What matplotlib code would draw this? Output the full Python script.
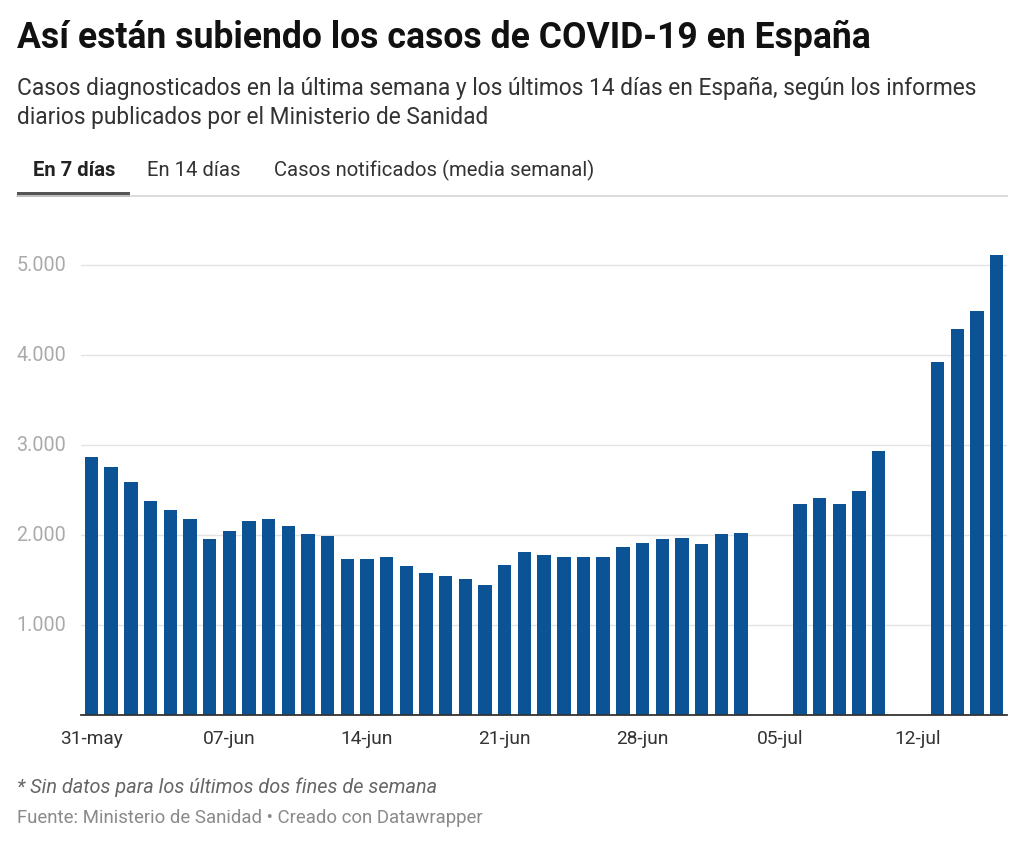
import numpy as np
import matplotlib
matplotlib.use("Agg")
import matplotlib.pyplot as plt
from matplotlib.patches import Rectangle
from matplotlib.lines import Line2D

plt.rcParams['font.family'] = ['Roboto', 'DejaVu Sans']

# ---- data ----
dates = ["2020-05-31", "2020-06-01", "2020-06-02", "2020-06-03", "2020-06-04", "2020-06-05",
         "2020-06-06", "2020-06-07", "2020-06-08", "2020-06-09", "2020-06-10", "2020-06-11",
         "2020-06-12", "2020-06-13", "2020-06-14", "2020-06-15", "2020-06-16", "2020-06-17",
         "2020-06-18", "2020-06-19", "2020-06-20", "2020-06-21", "2020-06-22", "2020-06-23",
         "2020-06-24", "2020-06-25", "2020-06-26", "2020-06-27", "2020-06-28", "2020-06-29",
         "2020-06-30", "2020-07-01", "2020-07-02", "2020-07-03",
         "2020-07-06", "2020-07-07", "2020-07-08", "2020-07-09", "2020-07-10",
         "2020-07-13", "2020-07-14", "2020-07-15", "2020-07-16"]
cases_7d = [2870, 2752, 2585, 2374, 2274, 2174, 1959, 2044, 2156, 2174, 2100, 2008,
            1989, 1733, 1733, 1752, 1659, 1578, 1548, 1511, 1448, 1667, 1815, 1778,
            1752, 1759, 1752, 1863, 1907, 1952, 1970, 1896, 2008, 2026,
            2341, 2411, 2341, 2485, 2933,
            3922, 4293, 4493, 5115]
tick_dates = ["2020-05-31", "2020-06-07", "2020-06-14", "2020-06-21", "2020-06-28",
              "2020-07-05", "2020-07-12"]
tick_labels = ["31-may", "07-jun", "14-jun", "21-jun", "28-jun", "05-jul", "12-jul"]
y_ticks = [1000, 2000, 3000, 4000, 5000]
y_tick_labels = ["1.000", "2.000", "3.000", "4.000", "5.000"]

title = "Así están subiendo los casos de COVID-19 en España"
subtitle = ("Casos diagnosticados en la última semana y los últimos 14 días en España, según los informes\n"
            "diarios publicados por el Ministerio de Sanidad")
tabs = ["En 7 días", "En 14 días", "Casos notificados (media semanal)"]
note = "* Sin datos para los últimos dos fines de semana"
source = "Fuente: Ministerio de Sanidad • Creado con Datawrapper"

# ---- layout ----
W, H = 1024, 859
fig = plt.figure(figsize=(W / 100, H / 100), dpi=100)
fig.patch.set_facecolor("white")

def fx(px):
    return px / W

def fy(py):
    return 1 - py / H

base = np.datetime64(dates[0])
x = (np.array(dates, dtype="datetime64[D]") - base).astype(int)
tx = (np.array(tick_dates, dtype="datetime64[D]") - base).astype(int)

ax_left, ax_right, ax_top, ax_bottom = 81, 1007, 240, 715
ax = fig.add_axes([fx(ax_left), fy(ax_bottom), fx(ax_right - ax_left), (ax_bottom - ax_top) / H])
ax.bar(x, cases_7d, width=0.68, color="#0b5394", zorder=3)
ax.set_xlim(-0.534, 46.52)
ax.set_ylim(0, 5280)

for s in ["top", "right", "left"]:
    ax.spines[s].set_visible(False)
ax.spines["bottom"].set_color("#333333")
ax.spines["bottom"].set_linewidth(1.3)
ax.spines["bottom"].set_zorder(4)

ax.set_yticks(y_ticks)
ax.set_yticklabels([])
ax.tick_params(axis="y", length=0)
ax.grid(axis="y", color="#e3e3e3", linewidth=1, zorder=0)
for v, lab in zip(y_ticks, y_tick_labels):
    ax.annotate(lab, xy=(0, v), xycoords=("axes fraction", "data"),
                xytext=(-15, 0), textcoords="offset pixels",
                ha="right", va="center", fontsize=14.2, color="#aaaaaa")

ax.set_xticks(tx)
ax.set_xticklabels(tick_labels, fontsize=13.8, color="#333333")
ax.tick_params(axis="x", length=0, pad=11)

# ---- header ----
fig.text(fx(17), fy(38), title, fontsize=25.6, fontweight="bold", color="#111111",
         ha="left", va="center")
fig.text(fx(17), fy(103), subtitle, fontsize=16.4, color="#333333", ha="left", va="center",
         linespacing=1.3)

tab_x = [33, 147, 274]
for i, (t, px) in enumerate(zip(tabs, tab_x)):
    fig.text(fx(px), fy(170), t, fontsize=14.6, color="#222222" if i == 0 else "#333333",
             fontweight="bold" if i == 0 else "normal", ha="left", va="center")

fig.add_artist(Line2D([fx(17), fx(1007)], [fy(196), fy(196)], color="#d5d5d5", linewidth=1.2))
fig.add_artist(Rectangle((fx(17), fy(197)), fx(113), 4.5 / H, color="#555555", linewidth=0))

# ---- footer ----
fig.text(fx(17), fy(787), note, fontsize=14.3, style="italic", color="#666666",
         ha="left", va="center")
fig.text(fx(17), fy(818), source, fontsize=13.4, color="#8a8a8a", ha="left", va="center")

fig.savefig("out.png", dpi=100, facecolor="white")
